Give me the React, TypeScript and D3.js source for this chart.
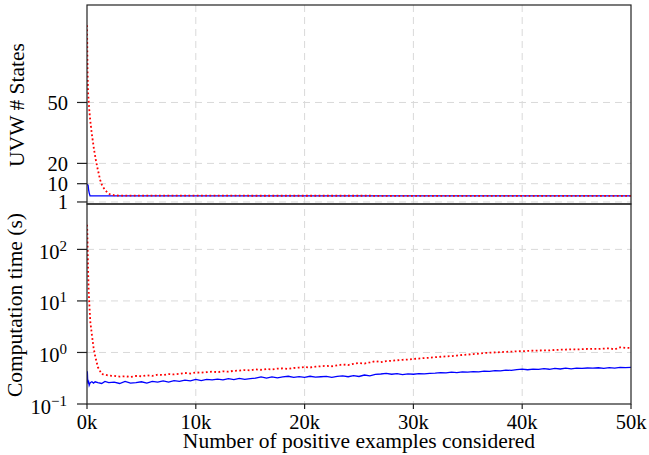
import React, { useRef, useEffect } from 'react';
import * as d3 from 'd3';

// top panel: number of UVW states (x in thousands of examples)
const stateSteps = [0, 0.02, 0.05, 0.1, 0.15, 0.2, 0.28, 0.43, 0.64, 0.8, 0.95, 1.2, 1.4, 1.65, 1.9, 2.1, 2.5, 3, 50];
const redStates = [88, 80, 65, 55, 51, 47, 42, 35, 27, 22, 18, 12, 9, 7, 5.5, 4.8, 4.3, 4.1, 4];
const blueStates = [9.5, 9.5, 9.4, 9.3, 7, 5.5, 4, 4, 4, 4, 4, 4, 4, 4, 4, 4, 4, 4, 4];

// bottom panel: computation time in seconds
const timeSteps = [
  0, 0.03, 0.06, 0.1, 0.15, 0.2, 0.3, 0.45, 0.6, 0.75, 1.0, 1.35, 1.65, 2.0,
  2.5, 3, 3.5, 4, 4.5, 5, 5.5, 6, 6.5, 7, 7.5, 8, 8.5, 9, 9.5, 10,
  10.5, 11, 11.5, 12, 12.5, 13, 13.5, 14, 14.5, 15, 15.5, 16, 16.5, 17, 17.5, 18, 18.5, 19, 19.5, 20,
  20.5, 21, 21.5, 22, 22.5, 23, 23.5, 24, 24.5, 25, 25.5, 26, 26.5, 27, 27.5, 28, 28.5, 29, 29.5, 30,
  30.5, 31, 31.5, 32, 32.5, 33, 33.5, 34, 34.5, 35, 35.5, 36, 36.5, 37, 37.5, 38, 38.5, 39, 39.5, 40,
  40.5, 41, 41.5, 42, 42.5, 43, 43.5, 44, 44.5, 45, 45.5, 46, 46.5, 47, 47.5, 48, 48.5, 49, 49.5, 50,
];
const redTime = [
  300, 220, 100, 40, 16, 10, 4, 2.2, 1.25, 0.85, 0.52, 0.38, 0.37, 0.355,
  0.35, 0.34, 0.345, 0.335, 0.35, 0.345, 0.36, 0.35, 0.37, 0.365, 0.38, 0.375, 0.385, 0.4, 0.39, 0.41,
  0.405, 0.415, 0.425, 0.415, 0.43, 0.425, 0.44, 0.445, 0.455, 0.45, 0.47, 0.46, 0.475, 0.47, 0.485, 0.49, 0.48, 0.5, 0.51, 0.52,
  0.51, 0.53, 0.54, 0.55, 0.54, 0.56, 0.585, 0.57, 0.6, 0.625, 0.61, 0.64, 0.68, 0.65, 0.68, 0.69, 0.705, 0.72, 0.73, 0.75,
  0.76, 0.78, 0.79, 0.81, 0.825, 0.84, 0.85, 0.87, 0.895, 0.91, 0.93, 0.95, 0.98, 0.99, 1.0, 1.015, 1.03, 1.04, 1.055, 1.06,
  1.07, 1.085, 1.09, 1.1, 1.095, 1.12, 1.13, 1.14, 1.15, 1.145, 1.16, 1.17, 1.18, 1.17, 1.19, 1.2, 1.15, 1.26, 1.23, 1.22,
];
const blueTime = [
  0.26, 0.43, 0.3, 0.26, 0.27, 0.23, 0.26, 0.27, 0.255, 0.27, 0.26, 0.25, 0.275, 0.26,
  0.265, 0.25, 0.275, 0.255, 0.26, 0.27, 0.255, 0.275, 0.265, 0.28, 0.265, 0.285, 0.275, 0.29, 0.28, 0.3,
  0.285, 0.3, 0.295, 0.305, 0.295, 0.31, 0.298, 0.315, 0.3, 0.312, 0.318, 0.335, 0.318, 0.335, 0.322, 0.335, 0.345, 0.328, 0.34, 0.33,
  0.345, 0.332, 0.338, 0.345, 0.33, 0.345, 0.35, 0.338, 0.355, 0.342, 0.365, 0.352, 0.375, 0.382, 0.392, 0.378, 0.388, 0.372, 0.385, 0.378,
  0.39, 0.385, 0.392, 0.396, 0.405, 0.4, 0.415, 0.405, 0.42, 0.415, 0.425, 0.42, 0.435, 0.428, 0.445, 0.44, 0.455, 0.45, 0.465, 0.475,
  0.462, 0.475, 0.47, 0.485, 0.472, 0.49, 0.478, 0.495, 0.482, 0.495, 0.49, 0.5, 0.495, 0.505, 0.492, 0.51, 0.498, 0.515, 0.508, 0.512,
];

const xTicks = [0, 10, 20, 30, 40, 50];
const stateTicks = [1, 10, 20, 50];
const timeTicks = [-1, 0, 1, 2];

const W = 649;
const H = 455;
const FONT = "'Liberation Serif', 'Times New Roman', serif";

const App = () => {
  const svgRef = useRef<SVGSVGElement>(null);

  useEffect(() => {
    const svg = d3.select(svgRef.current);
    svg.selectAll('*').remove();

    const left = 87, right = 631, top = 5, mid = 204, bottom = 404;

    const x = d3.scaleLinear().domain([0, 50]).range([left, right]);
    const yStates = d3.scaleLinear().domain([0, 98]).range([mid, top]);
    const yTime = d3.scaleLog().domain([0.1, 760]).range([bottom, mid]);

    const defs = svg.append('defs');
    defs.append('clipPath').attr('id', 'clipTop')
      .append('rect').attr('x', left).attr('y', top).attr('width', right - left).attr('height', mid - top);
    defs.append('clipPath').attr('id', 'clipBottom')
      .append('rect').attr('x', left).attr('y', mid).attr('width', right - left).attr('height', bottom - mid);

    const grid = svg.append('g')
      .attr('stroke', '#d9d9d9')
      .attr('stroke-width', 1)
      .attr('stroke-dasharray', '7,5');

    // vertical grid in both panels
    grid.selectAll('.vgrid')
      .data(xTicks.slice(1, -1))
      .join('line')
      .attr('class', 'vgrid')
      .attr('x1', d => x(d)).attr('x2', d => x(d))
      .attr('y1', top).attr('y2', bottom);

    grid.selectAll('.sgrid')
      .data(stateTicks)
      .join('line')
      .attr('class', 'sgrid')
      .attr('x1', left).attr('x2', right)
      .attr('y1', d => yStates(d)).attr('y2', d => yStates(d));

    grid.selectAll('.tgrid')
      .data(timeTicks.slice(1))
      .join('line')
      .attr('class', 'tgrid')
      .attr('x1', left).attr('x2', right)
      .attr('y1', d => yTime(Math.pow(10, d))).attr('y2', d => yTime(Math.pow(10, d)));

    // lines
    const stateLine = d3.line<number>()
      .x((d, i) => x(stateSteps[i]))
      .y(d => yStates(d));
    const timeLine = d3.line<number>()
      .x((d, i) => x(timeSteps[i]))
      .y(d => yTime(d));

    const topG = svg.append('g').attr('clip-path', 'url(#clipTop)');
    topG.append('path').datum(blueStates)
      .attr('d', stateLine).attr('fill', 'none')
      .attr('stroke', '#0000ff').attr('stroke-width', 1.3);
    topG.append('path').datum(redStates)
      .attr('d', stateLine).attr('fill', 'none')
      .attr('stroke', '#ff0000').attr('stroke-width', 1.8)
      .attr('stroke-dasharray', '1.8,2.4');

    const botG = svg.append('g').attr('clip-path', 'url(#clipBottom)');
    botG.append('path').datum(blueTime)
      .attr('d', timeLine).attr('fill', 'none')
      .attr('stroke', '#0000ff').attr('stroke-width', 1.3);
    botG.append('path').datum(redTime)
      .attr('d', timeLine).attr('fill', 'none')
      .attr('stroke', '#ff0000').attr('stroke-width', 1.8)
      .attr('stroke-dasharray', '1.8,2.4');

    // frames
    const frame = svg.append('g').attr('fill', 'none').attr('stroke', '#222').attr('stroke-width', 1.2);
    frame.append('rect').attr('x', left).attr('y', top).attr('width', right - left).attr('height', mid - top);
    frame.append('rect').attr('x', left).attr('y', mid).attr('width', right - left).attr('height', bottom - mid);

    // ticks
    const tickG = svg.append('g').attr('stroke', '#222').attr('stroke-width', 1.2);
    stateTicks.forEach(t => {
      tickG.append('line').attr('x1', left - 10).attr('x2', left)
        .attr('y1', yStates(t)).attr('y2', yStates(t));
    });
    timeTicks.forEach(t => {
      const yy = yTime(Math.pow(10, t));
      tickG.append('line').attr('x1', left - 10).attr('x2', left).attr('y1', yy).attr('y2', yy);
    });
    xTicks.forEach(t => {
      tickG.append('line').attr('x1', x(t)).attr('x2', x(t)).attr('y1', bottom).attr('y2', bottom + 5);
    });

    const txt = svg.append('g').attr('font-family', FONT).attr('fill', '#000');

    txt.selectAll('.slab')
      .data(stateTicks)
      .join('text')
      .attr('class', 'slab')
      .attr('x', 68)
      .attr('y', d => yStates(d) + 7.5)
      .attr('text-anchor', 'end')
      .attr('font-size', 20.5)
      .text(d => String(d));

    timeTicks.forEach(t => {
      const yy = yTime(Math.pow(10, t));
      const el = txt.append('text')
        .attr('x', 67)
        .attr('y', yy + 9.5)
        .attr('text-anchor', 'end')
        .attr('font-size', 20.5);
      el.append('tspan').text('10');
      el.append('tspan').attr('dy', -8).attr('font-size', 15)
        .text(t < 0 ? '\u2212' + Math.abs(t) : String(t));
    });

    txt.selectAll('.xlab')
      .data(xTicks)
      .join('text')
      .attr('class', 'xlab')
      .attr('x', d => x(d))
      .attr('y', 429)
      .attr('text-anchor', 'middle')
      .attr('font-size', 20.5)
      .text(d => `${d}k`);

    txt.append('text')
      .attr('x', (left + right) / 2)
      .attr('y', 448)
      .attr('text-anchor', 'middle')
      .attr('font-size', 21.5)
      .text('Number of positive examples considered');

    txt.append('text')
      .attr('transform', 'translate(24,105) rotate(-90)')
      .attr('text-anchor', 'middle')
      .attr('font-size', 21.5)
      .text('UVW # States');

    txt.append('text')
      .attr('transform', 'translate(22,305) rotate(-90)')
      .attr('text-anchor', 'middle')
      .attr('font-size', 21.5)
      .text('Computation time (s)');
  }, []);

  return (
    <React.Fragment>
      <svg
        ref={svgRef}
        width={W}
        height={H}
        style={{ position: 'absolute', left: 0, top: 0, background: '#fff' }}
      ></svg>
    </React.Fragment>
  );
};

export default App;
